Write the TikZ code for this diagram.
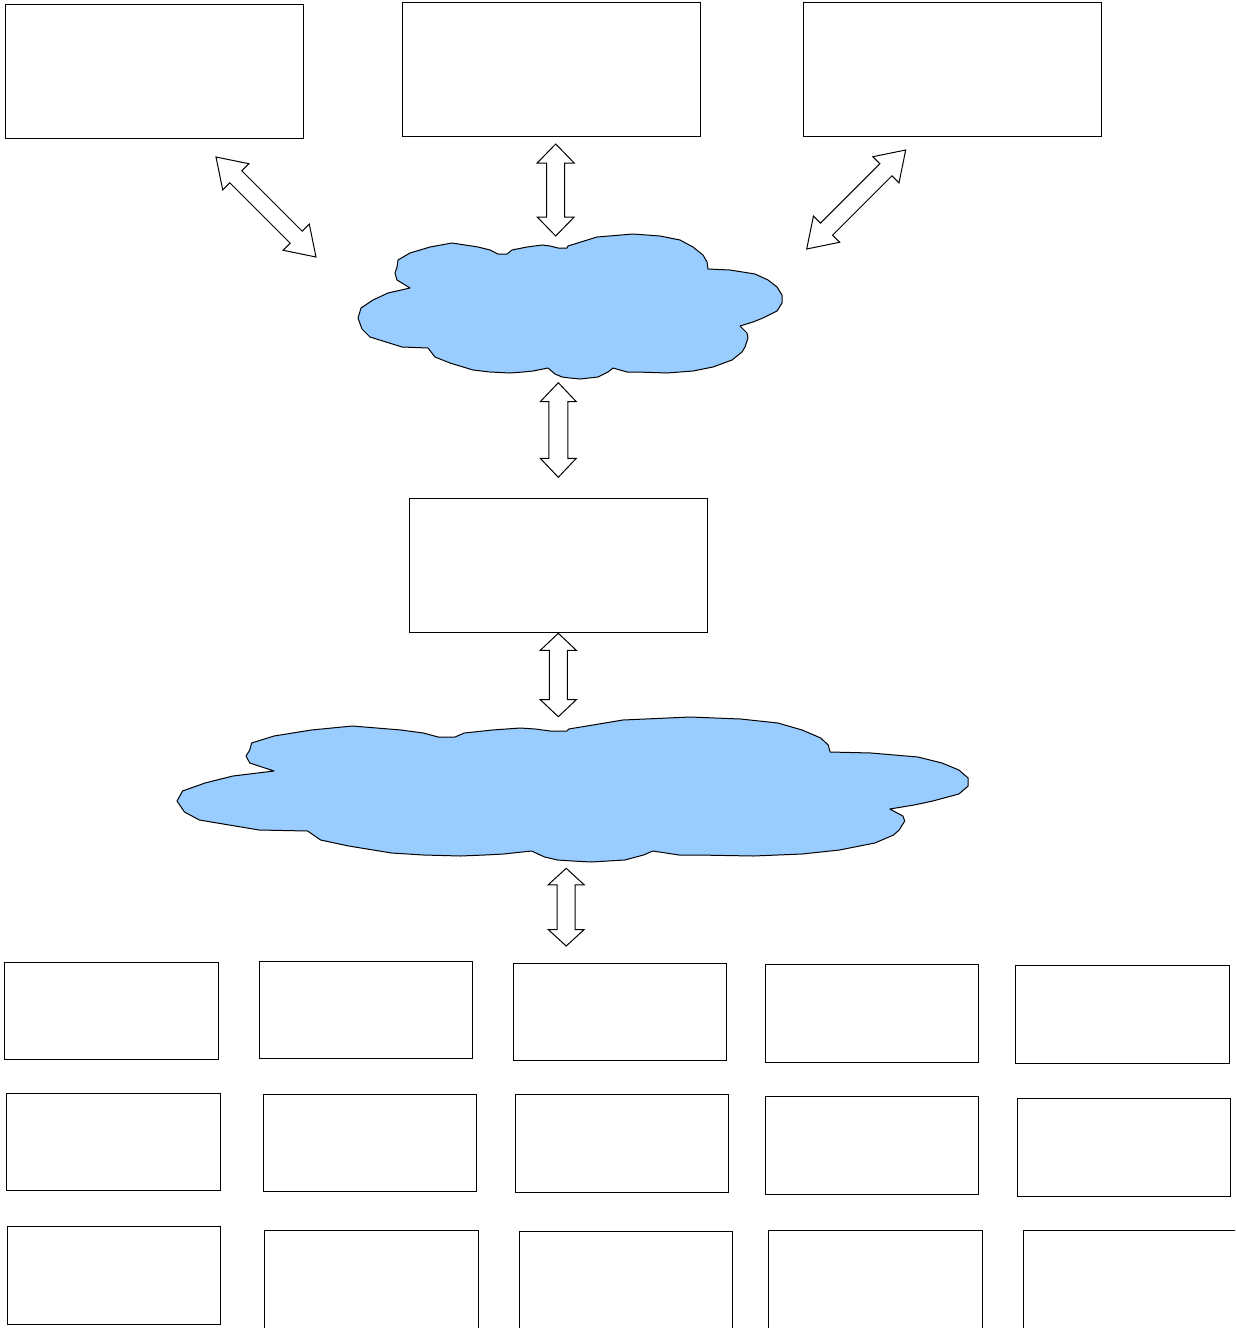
\documentclass[tikz,border=0pt]{standalone}
\usetikzlibrary{calc,fit}
\definecolor{cloudblue}{HTML}{99CCFF}
\tikzset{
  box/.style={draw=black, line width=1pt, inner sep=0pt, outer sep=0pt, fill=white},
  cloudshape/.style={draw=black, line width=1pt, fill=cloudblue, line join=round},
  blockarrow/.style={draw=black, line width=1pt, fill=white, line join=miter},
}
% double block arrow between two named coordinates
% #1 start, #2 end, #3 head length, #4 half head width, #5 half shaft width
\newcommand\dblarr[5]{%
  \draw[blockarrow] (#1)
    -- ($(#1)!#3!(#2)!#4!90:(#2)$)
    -- ($(#1)!#3!(#2)!#5!90:(#2)$)
    -- ($(#2)!#3!(#1)!#5!-90:(#1)$)
    -- ($(#2)!#3!(#1)!#4!-90:(#1)$)
    -- (#2)
    -- ($(#2)!#3!(#1)!#4!90:(#1)$)
    -- ($(#2)!#3!(#1)!#5!90:(#1)$)
    -- ($(#1)!#3!(#2)!#5!-90:(#2)$)
    -- ($(#1)!#3!(#2)!#4!-90:(#2)$)
    -- cycle;}
\newcommand\cloudoutline{(40,26) -- (52,19) -- (72,13) -- (94,9) -- (120,13) -- (132,16) -- (140,20) -- (149,20) -- (154,16) -- (169,13) -- (184,11) -- (192,12) -- (200,14) -- (209,14) -- (210,12) -- (239,3) -- (275,0) -- (302,2) -- (322,6) -- (335,13) -- (345,21) -- (349,28) -- (350,35) -- (372,36) -- (397,40) -- (410,46) -- (419,53) -- (424,61) -- (424,69) -- (419,77) -- (405,84) -- (395,88) -- (382,92) -- (389,99) -- (390,104) -- (387,113) -- (384,118) -- (374,126) -- (355,133) -- (335,137) -- (309,139) -- (279,138) -- (269,138) -- (255,134) -- (250,138) -- (240,143) -- (222,145) -- (212,144) -- (204,143) -- (197,140) -- (190,134) -- (175,137) -- (165,138) -- (152,139) -- (132,138) -- (115,136) -- (92,129) -- (77,123) -- (70,114) -- (44,113) -- (12,103) -- (4,95) -- (0,84) -- (3,74) -- (9,70) -- (15,66) -- (30,59) -- (52,54) -- (39,46) -- (37,39) -- (39,33) -- cycle}

\begin{document}
\begin{tikzpicture}[x=1pt,y=-1pt]
\useasboundingbox (0,0) rectangle (1235,1328);
\clip (0,0) rectangle (1235,1328);
\fill[white] (0,0) rectangle (1235,1328);

% top row
\node[box, fit={(5,4) (303,138)}] (top1) {};
\node[box, fit={(402,2) (700,136)}] (top2) {};
\node[box, fit={(803,2) (1101,136)}] (top3) {};
% middle box
\node[box, fit={(409,498) (707,632)}] (mid) {};

% clouds
\draw[cloudshape, shift={(358,234)}] \cloudoutline;
\coordinate (cloudA) at (570,306);
\draw[cloudshape, shift={(177,717)}, xscale=1.866] \cloudoutline;
\coordinate (cloudB) at (572,790);

% bottom grid, row 1
\node[box, fit={(4.5,962.3) (218.3,1059)}] (r1c1) {};
\node[box, fit={(259.3,961.7) (472.7,1058.7)}] (r1c2) {};
\node[box, fit={(513.6,963.3) (726.4,1060.3)}] (r1c3) {};
\node[box, fit={(765.4,964.3) (978.7,1062)}] (r1c4) {};
\node[box, fit={(1015.7,965.3) (1229,1063)}] (r1c5) {};
% row 2
\node[box, fit={(6.7,1093.3) (220,1190.7)}] (r2c1) {};
\node[box, fit={(263,1094.3) (476.3,1191.7)}] (r2c2) {};
\node[box, fit={(515.5,1094.7) (728.8,1192.3)}] (r2c3) {};
\node[box, fit={(765.4,1096) (978.7,1194)}] (r2c4) {};
\node[box, fit={(1017.6,1098.7) (1230.4,1196.7)}] (r2c5) {};
% row 3
\node[box, fit={(7,1226.7) (220.5,1324.3)}] (r3c1) {};
\node[box, fit={(264.6,1230.7) (478,1332)}] (r3c2) {};
\node[box, fit={(519,1231.3) (732,1332)}] (r3c3) {};
\node[box, fit={(768.5,1230.7) (982,1332)}] (r3c4) {};
\node[box, fit={(1023,1230.7) (1240,1332)}] (r3c5) {};

% arrow end points
\coordinate (d1a) at (216,157);   \coordinate (d1b) at (316,257);
\coordinate (d2a) at (905.7,150); \coordinate (d2b) at (806.7,249);
\coordinate (v1a) at (555.7,144); \coordinate (v1b) at (555.7,236);
\coordinate (v2a) at (558.3,382.7); \coordinate (v2b) at (558.3,477.3);
\coordinate (v3a) at (558.3,633.3); \coordinate (v3b) at (558.3,716.7);
\coordinate (v4a) at (566.2,868.3); \coordinate (v4b) at (566.2,946);

\dblarr{d1a}{d1b}{28pt}{18.5pt}{8.5pt}
\dblarr{d2a}{d2b}{28pt}{18.5pt}{8.5pt}
\dblarr{v1a}{v1b}{19pt}{18.5pt}{9pt}
\dblarr{v2a}{v2b}{19pt}{18pt}{9.5pt}
\dblarr{v3a}{v3b}{17pt}{18pt}{9pt}
\dblarr{v4a}{v4b}{16.5pt}{18pt}{9pt}
\end{tikzpicture}
\end{document}
